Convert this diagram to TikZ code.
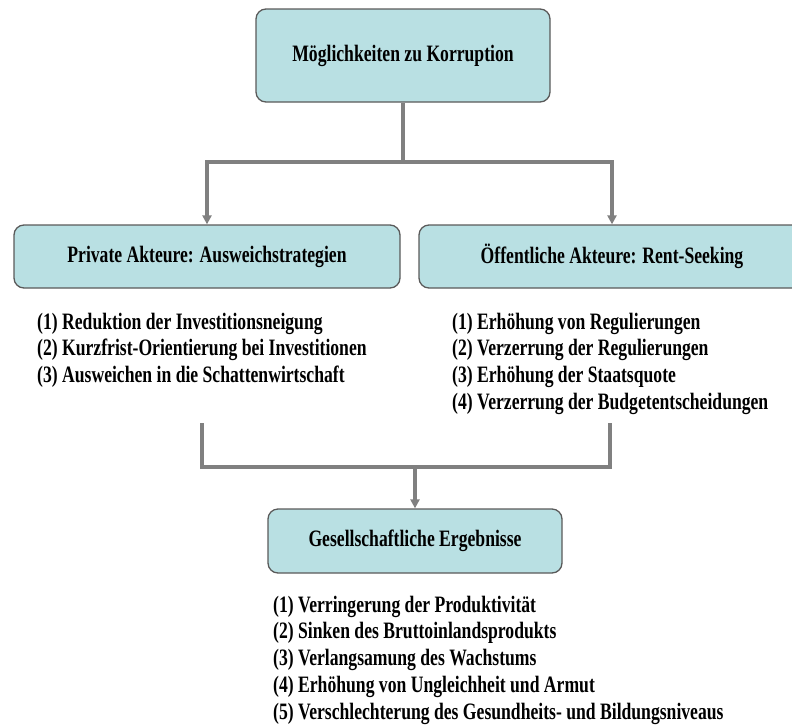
\documentclass[tikz,border=0pt]{standalone}
\usepackage{fontspec}
\setmainfont{Liberation Serif}[FakeStretch=0.75]
\usetikzlibrary{arrows.meta}
\definecolor{boxfill}{RGB}{185,224,227}
\definecolor{boxline}{RGB}{90,90,90}
\definecolor{linkgray}{RGB}{128,128,128}
\tikzset{
  headbox/.style={draw=boxline, line width=1.3pt, fill=boxfill, rounded corners=10pt,
    inner sep=0pt, font=\fontsize{23.5}{25}\selectfont\bfseries},
  itemlist/.style={anchor=north west, align=left, inner sep=0pt,
    font=\fontsize{23.5}{26.8}\selectfont\bfseries},
  link/.style={draw=linkgray, line width=3.2pt},
  arr/.style={link, -{Triangle[length=9pt,width=9pt]}}
}

\begin{document}
\begin{tikzpicture}[x=1pt,y=-1pt]
			%%%%% START %%%%%
			\clip (0,0) rectangle (792,726);
			
			\node[headbox, minimum width=294pt, minimum height=93pt] (chance) at (403,55.5) {Möglichkeiten zu Korruption};
			
			\node[headbox, minimum width=386pt, minimum height=63pt] (privat) at (207,256.5) {Private Akteure: Ausweichstrategien};
			\node[headbox, minimum width=386pt, minimum height=63pt] (oeffentl) at (612,256.5) {Öffentliche Akteure: Rent-Seeking};
			
			\node[itemlist] (privlist) at (37,312.5) {(1) Reduktion der Investitionsneigung\\(2) Kurzfrist-Orientierung bei Investitionen\\(3) Ausweichen in die Schattenwirtschaft};
			\node[itemlist] (oefflist) at (452,312.5) {(1) Erhöhung von Regulierungen\\(2) Verzerrung der Regulierungen\\(3) Erhöhung der Staatsquote\\(4) Verzerrung der Budgetentscheidungen};
			
			\node[headbox, minimum width=294pt, minimum height=64pt] (ergebnis) at (415,541) {Gesellschaftliche Ergebnisse};
			\node[itemlist] (erglist) at (273,595.5) {(1) Verringerung der Produktivität\\(2) Sinken des Bruttoinlandsprodukts\\(3) Verlangsamung des Wachstums\\(4) Erhöhung von Ungleichheit und Armut\\(5) Verschlechterung des Gesundheits- und Bildungsniveaus};
			
			% split
			\coordinate (split) at (403,162);
			\draw[link] (chance) -- (split);
			\draw[arr] (split) -| (privat.north);
			\draw[arr] (split) -| (oeffentl.north);
			
			% merge
			\coordinate (privend) at (202,423);
			\coordinate (oeffend) at (610,423);
			\coordinate (merge) at (415,467);
			\draw[link] (privend) |- (merge) -| (oeffend);
			\draw[arr] (merge) -- (ergebnis);
			
			%%%%% END %%%%%
\end{tikzpicture}
\end{document}
